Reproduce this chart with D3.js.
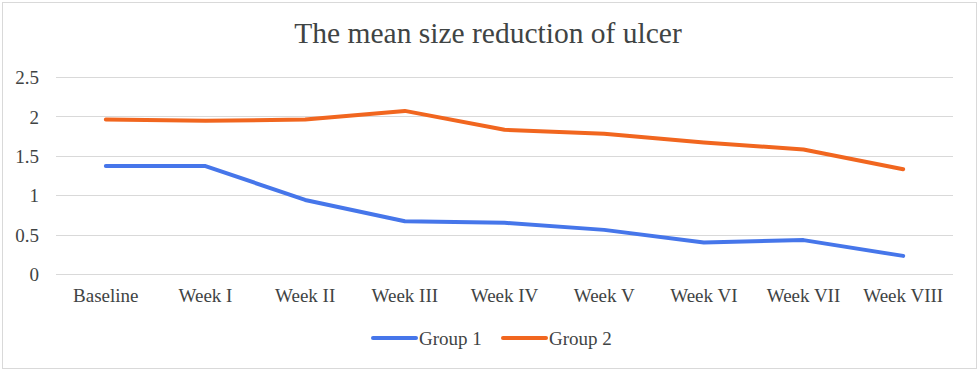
<!DOCTYPE html>
<html>
<head>
<meta charset="utf-8">
<script src="https://cdn.jsdelivr.net/npm/d3@7"></script>
<style>
  body { margin: 0; background: #fff; }
  text { font-family: "Liberation Serif", "DejaVu Serif", serif; fill: #3f4444; }
</style>
</head>
<body>
<svg id="chart"></svg>
<script>
const width = 980;
const height = 371;

const categories = ['Baseline', 'Week I', 'Week II', 'Week III', 'Week IV', 'Week V', 'Week VI', 'Week VII', 'Week VIII'];
const group1 = [1.37, 1.37, 0.94, 0.67, 0.65, 0.56, 0.40, 0.43, 0.23];
const group2 = [1.96, 1.945, 1.96, 2.07, 1.83, 1.78, 1.67, 1.58, 1.33];
const yTicks = [0, 0.5, 1, 1.5, 2, 2.5];

const series = [
  {name: 'Group 1', values: group1, color: '#4676EA'},
  {name: 'Group 2', values: group2, color: '#F1661F'}
];

const margin = {top: 77, right: 27, bottom: 97, left: 56};

const svg = d3.select('#chart')
    .attr('width', width).attr('height', height);

// outer chart border
svg.append('rect')
    .attr('x', 2.5).attr('y', 2.5)
    .attr('width', width - 6).attr('height', height - 5)
    .attr('fill', '#fff')
    .attr('stroke', '#d9d9d9');

const x = d3.scaleBand()
    .domain(categories)
    .range([margin.left, width - margin.right]);

const y = d3.scaleLinear()
    .domain([0, 2.5])
    .range([height - margin.bottom, margin.top]);

svg.append('text')
    .attr('x', width / 2 - 2)
    .attr('y', 43)
    .attr('text-anchor', 'middle')
    .style('font-size', '29.5px')
    .text('The mean size reduction of ulcer');

// gridlines
svg.append('g')
    .selectAll('line')
    .data(yTicks)
    .enter().append('line')
    .attr('x1', margin.left).attr('x2', width - margin.right)
    .attr('y1', d => Math.round(y(d)) + 0.5).attr('y2', d => Math.round(y(d)) + 0.5)
    .attr('stroke', '#d9d9d9')
    .attr('stroke-width', 1.2);

const yAxis = svg.append('g')
    .attr('transform', `translate(${margin.left - 17},0)`)
    .call(d3.axisLeft(y).tickValues(yTicks).tickSize(0).tickFormat(d3.format('')));
yAxis.select('.domain').remove();
yAxis.selectAll('text')
    .attr('x', 0).attr('dy', '0.35em')
    .style('font-size', '19px')
    .style('font-family', '"Liberation Serif", serif')
    .attr('fill', '#3f4444');

const xAxis = svg.append('g')
    .attr('transform', `translate(0,${height - margin.bottom})`)
    .call(d3.axisBottom(x).tickSize(0));
xAxis.select('.domain').remove();
xAxis.selectAll('text')
    .attr('y', 28).attr('dy', 0)
    .style('font-size', '19px')
    .style('font-family', '"Liberation Serif", serif')
    .attr('fill', '#3f4444');

const line = d3.line()
    .x((d, i) => x(categories[i]) + x.bandwidth() / 2)
    .y(d => y(d));

svg.append('g')
    .selectAll('path')
    .data(series)
    .enter().append('path')
    .attr('d', d => line(d.values))
    .attr('fill', 'none')
    .attr('stroke', d => d.color)
    .attr('stroke-width', 4)
    .attr('stroke-linecap', 'round')
    .attr('stroke-linejoin', 'round');

// legend
const legend = svg.append('g')
    .selectAll('g')
    .data(series)
    .enter().append('g')
    .attr('transform', (d, i) => `translate(${373 + i * 130},338)`);
legend.append('line')
    .attr('x1', 0).attr('x2', 43)
    .attr('stroke', d => d.color)
    .attr('stroke-width', 4)
    .attr('stroke-linecap', 'round');
legend.append('text')
    .attr('x', 46)
    .attr('dy', '0.35em')
    .style('font-size', '19px')
    .text(d => d.name);
</script>
</body>
</html>
